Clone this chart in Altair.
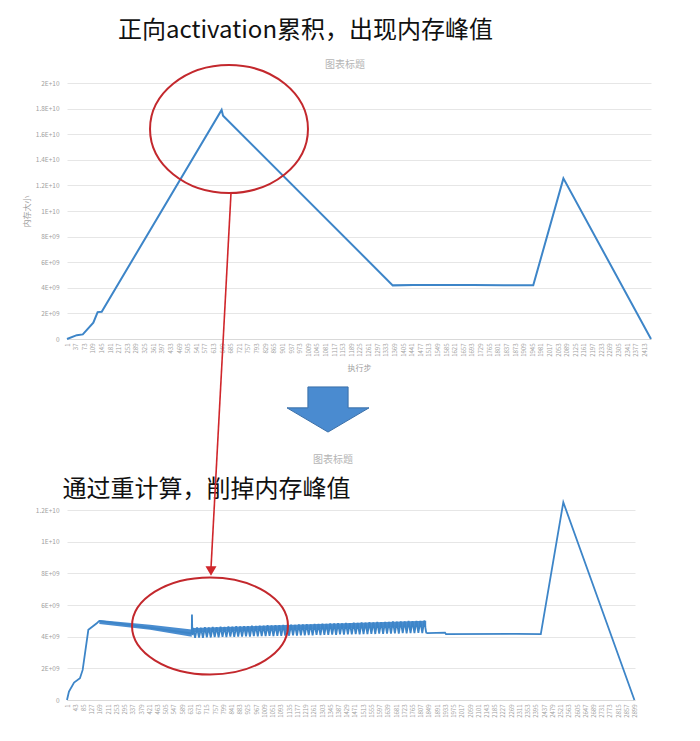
import altair as alt
import pandas as pd

FONT = "Noto Sans CJK SC"
BLUE = "#3d85c8"
RED = "#c3282d"
GREY = "#a0a0a0"

heading_top = "正向activation累积，出现内存峰值"
heading_bottom = "通过重计算，削掉内存峰值"
chart_title = "图表标题"
y_title = "内存大小"
x_title = "执行步"

# ---- top chart: memory (units of 1E+09) per execution step ----
top_steps = [1, 42, 67, 111, 129, 146, 647, 653, 1362, 1446, 1697, 1825, 1949, 2075, 2441]
top_vals = [0, 0.30, 0.36, 1.27, 2.10, 2.13, 17.90, 17.45, 4.19, 4.22, 4.21, 4.20, 4.19, 12.55, 0]
top_y_ticks = [0, 2, 4, 6, 8, 10, 12, 14, 16, 18, 20]
top_x_ticks = list(range(1, 2442, 36))

# ---- bottom chart (with recomputation) ----
bot_steps = [1, 11, 37, 67, 81, 110, 153, 166, 638, 639, 641]
bot_vals = [0, 0.53, 1.10, 1.37, 1.90, 4.43, 4.85, 5.00, 4.20, 5.40, 4.10]
# thick declining band, and the solid upper part of the saw-tooth band
band_steps = [166, 425, 638, 645, 1240, 1835]
band_hi = [5.06, 4.75, 4.45, 4.55, 4.78, 5.00]
band_lo = [4.80, 4.43, 4.00, 4.28, 4.45, 4.62]
band_part = ["a", "a", "a", "b", "b", "b"]
zig_hi = [4.55, 4.58, 4.56, 4.60, 4.59, 4.62, 4.60, 4.63, 4.62, 4.65,
          4.63, 4.66, 4.64, 4.67, 4.66, 4.69, 4.68, 4.70, 4.69, 4.72,
          4.71, 4.73, 4.72, 4.75, 4.74, 4.76, 4.75, 4.78, 4.77, 4.79,
          4.78, 4.81, 4.80, 4.82, 4.81, 4.84, 4.83, 4.85, 4.84, 4.87,
          4.86, 4.88, 4.87, 4.90, 4.89, 4.91, 4.90, 4.93, 4.92, 4.94,
          4.93, 4.96, 4.95, 4.97, 4.96, 4.99, 4.98, 5.00, 4.99, 5.02]
zig_lo = [3.92, 3.95, 3.93, 3.96, 3.95, 3.98, 3.96, 3.99, 3.98, 4.00,
          3.99, 4.01, 4.00, 4.02, 4.01, 4.03, 4.02, 4.04, 4.03, 4.05,
          4.04, 4.06, 4.05, 4.07, 4.06, 4.08, 4.07, 4.09, 4.08, 4.10,
          4.09, 4.11, 4.10, 4.12, 4.11, 4.13, 4.12, 4.14, 4.13, 4.15,
          4.14, 4.16, 4.15, 4.17, 4.16, 4.18, 4.17, 4.19, 4.18, 4.20,
          4.19, 4.21, 4.20, 4.22, 4.21, 4.23, 4.22, 4.24, 4.23, 4.26]
ZIG_START, ZIG_GAP = 645, 10
tail_steps = [1841, 1931, 1936, 2297, 2420, 2535, 2898]
tail_vals = [4.22, 4.26, 4.16, 4.18, 4.16, 12.49, 0]
bot_y_ticks = [0, 2, 4, 6, 8, 10, 12]
bot_x_ticks = list(range(1, 2900, 42))

# ---- tables ----
top_df = pd.DataFrame({"s": top_steps, "v": top_vals})
zig_steps = [ZIG_START + ZIG_GAP * i for i in range(2 * len(zig_hi))]
zig_vals = [v for pair in zip(zig_hi, zig_lo) for v in pair]
bot_df = pd.DataFrame({"s": bot_steps + zig_steps + tail_steps,
                       "v": bot_vals + zig_vals + tail_vals})
band_df = pd.DataFrame({"s": band_steps, "v": band_hi, "v2": band_lo, "p": band_part})

LBL = ("datum.value == 0 ? '0' : (datum.value < 10 ? datum.value + 'E+09' "
       ": (datum.value / 10) + 'E+10')")


def y_axis(ticks, title):
    kw = dict(values=ticks, labelExpr=LBL, grid=True, gridColor="#e6e6e6",
              gridWidth=1, domain=False, ticks=False, labelColor=GREY,
              labelFontSize=6.5, labelPadding=8, labelFont=FONT)
    if title:
        kw.update(title=title, titleFontSize=8, titleColor=GREY,
                  titleFontWeight="normal", titlePadding=4, titleFont=FONT)
    else:
        kw["title"] = None
    return alt.Axis(**kw)


def x_axis(ticks, title):
    kw = dict(values=ticks, format="d", labelAngle=-90, labelFontSize=6,
              labelColor=GREY, labelOverlap=False, labelFlush=False, grid=False,
              ticks=False, domainColor="#d9d9d9", labelPadding=4, labelFont=FONT)
    if title:
        kw.update(title=title, titleFontSize=8, titleColor=GREY,
                  titleFontWeight="normal", titlePadding=8, titleFont=FONT)
    else:
        kw["title"] = None
    return alt.Axis(**kw)


def one(text=""):
    return pd.DataFrame({"t": [text]})


def text_at(text, x, y, size, color):
    return alt.Chart(one(text)).mark_text(
        font=FONT, fontSize=size, color=color, align="center", baseline="middle"
    ).encode(x=alt.value(x), y=alt.value(y), text="t:N")


def ellipse(x, y, ratio, ry):
    path = f"M -{ratio} 0 A {ratio} 1 0 1 1 {ratio} 0 A {ratio} 1 0 1 1 -{ratio} 0 Z"
    return alt.Chart(one()).mark_point(
        shape=path, size=(2 * ry) ** 2, filled=False, color=RED,
        strokeWidth=2, opacity=1
    ).encode(x=alt.value(x), y=alt.value(y))


# ---- top panel ----
tx = alt.X("s:Q", scale=alt.Scale(domain=[1, 2441], nice=False, zero=False),
           axis=x_axis(top_x_ticks, x_title))
ty = alt.Y("v:Q", scale=alt.Scale(domain=[0, 20], nice=False),
           axis=y_axis(top_y_ticks, y_title))
top_line = alt.Chart(top_df).mark_line(color=BLUE, strokeWidth=2).encode(x=tx, y=ty)
anchor = alt.Chart(one()).mark_rule(opacity=0, strokeWidth=0).encode(
    x=alt.value(-59), x2=alt.value(-58), y=alt.value(-75), y2=alt.value(-75))
top = alt.layer(
    top_line,
    ellipse(162, 46, 1.234, 64),
    text_at(heading_top, 238.5, -52.5, 24, "#111111"),
    text_at(chart_title, 278, -18, 10, "#b5b5b5"),
    anchor,
).properties(width=584, height=256)

# ---- bottom panel ----
bx = alt.X("s:Q", scale=alt.Scale(domain=[1, 2901], nice=False, zero=False),
           axis=x_axis(bot_x_ticks, None))
by = alt.Y("v:Q", scale=alt.Scale(domain=[0, 12], nice=False),
           axis=y_axis(bot_y_ticks, None))
band = alt.Chart(band_df).mark_area(color="#4a8dd0", opacity=1).encode(
    x=bx, y=by, y2="v2:Q", detail="p:N")
bot_line = alt.Chart(bot_df).mark_line(color=BLUE, strokeWidth=1.8).encode(x=bx, y=by)
blue_arrow = alt.Chart(one()).mark_point(
    shape="M -0.49 -0.55 L 0.49 -0.55 L 0.49 -0.04 L 1 -0.04 L 0 0.55 L -1 -0.04 L -0.49 -0.04 Z",
    size=6724, filled=True, fill="#4a8bd0", stroke="#3a6fa8", strokeWidth=1, opacity=1
).encode(x=alt.value(261), y=alt.value(-100.5))
red_line = alt.Chart(one()).mark_rule(color="#d0262b", strokeWidth=1.6).encode(
    x=alt.value(164), y=alt.value(-317), x2=alt.value(144), y2=alt.value(58))
red_head = alt.Chart(one()).mark_point(
    shape="triangle-down", size=121, filled=True, color="#d0262b", opacity=1
).encode(x=alt.value(144), y=alt.value(61))
bottom = alt.layer(
    band,
    bot_line,
    ellipse(143, 116, 1.608, 48.5),
    text_at(heading_bottom, 139.5, -20, 24, "#111111"),
    text_at(chart_title, 266, -50, 10, "#b5b5b5"),
    blue_arrow,
    red_line,
    red_head,
).properties(width=568, height=190)

chart = alt.vconcat(top, bottom, spacing=171, bounds="flush").properties(
    padding=0
).configure(font=FONT).configure_view(stroke=None)

chart.save("out.html", embed_options={"renderer": "svg", "actions": False})
